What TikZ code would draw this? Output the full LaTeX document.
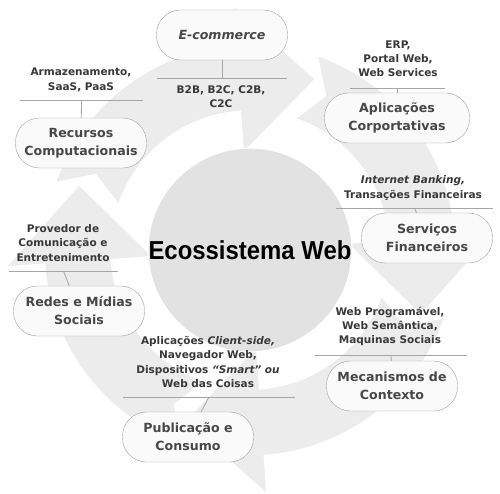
\documentclass[tikz,border=0pt]{standalone}
\usepackage{fontspec}
\setmainfont{DejaVu Sans}
\newfontfamily\titlefont{Liberation Sans}
\usetikzlibrary{positioning}
\tikzset{caixa/.style={draw=gray!75,fill=gray!4,rounded corners=24pt,minimum width=131pt,minimum height=50pt,
		align=center,inner sep=2pt,text=black!72,font=\fontsize{12.6}{18}\selectfont\bfseries},
	 nota/.style={align=center,inner sep=0pt,text=black!78,font=\fontsize{10.5}{14.2}\selectfont\bfseries},
	 regua/.style={draw=gray!70,line width=0.8pt},
	 seta/.style={fill=gray!15,draw=white,line width=1.6pt,line join=round},
	 centro/.style={circle,fill=gray!23,draw=white,line width=1pt,minimum size=190pt,inner sep=0pt}
	 }
% uma seta do ciclo, dada a ponta
\newcommand{\setaciclo}[1]{%
	\pgfmathsetmacro{\ta}{#1+92}\pgfmathsetmacro{\tn}{#1+85}\pgfmathsetmacro{\hb}{#1+25}%
	\draw[seta] (\ta:206) arc[start angle=\ta,end angle=\hb,radius=206] -- (\hb:245) -- (#1:183)
		-- (\hb:97) -- (\hb:139) arc[start angle=\hb,end angle=\ta,radius=139] -- (\tn:172) -- cycle;}

\begin{document}
\begin{tikzpicture}[x=1pt,y=-1pt]
	\useasboundingbox (0,0) rectangle (500,494);
	\fill[white] (0,0) rectangle (500,494);

	\begin{scope}[shift={(250,250)},yscale=-1]
		\foreach \t in {159,69,-21,-111} {\setaciclo{\t}}
	\end{scope}
	\node[centro] (eco) at (250,250) {\titlefont\fontsize{26}{28}\selectfont\bfseries\scalebox{0.92}[1]{Ecossistema Web}};

	\node[caixa,font=\fontsize{12.6}{18}\selectfont\bfseries\itshape] (ecom) at (222,35) {E-commerce};
	\node[caixa] (recursos) at (81,143) {Recursos\\Computacionais};
	\node[caixa,minimum width=145pt] (aplic) at (397,118) {Aplicações\\Corportativas};
	\node[caixa] (servicos) at (427,238) {Serviços\\Financeiros};
	\node[caixa] (redes) at (79,311) {Redes e Mídias\\Sociais};
	\node[caixa] (public) at (188,437) {Publicação e\\Consumo};
	\node[caixa] (mecan) at (392,386) {Mecanismos de\\Contexto};

	\node[nota] (n-recursos) at (81,80) {Armazenamento,\\SaaS, PaaS};
	\node[nota] (n-ecom) at (221,97) {B2B, B2C, C2B,\\C2C};
	\node[nota] (n-aplic) at (398,58.5) {ERP,\\Portal Web,\\Web Services};
	\node[nota] (n-servicos) at (413,188) {\itshape Internet Banking,\\Transações Financeiras};
	\node[nota] (n-redes) at (63,243) {Provedor de\\Comunicação e\\Entretenimento};
	\node[nota] (n-public) at (208,362) {Aplicações \textit{Client-side,}\\Navegador Web,\\Dispositivos \textit{“Smart” ou}\\Web das Coisas};
	\node[nota] (n-mecan) at (390,326.5) {Web Programável,\\Web Semântica,\\Maquinas Sociais};

	\foreach \nome/\xa/\xb/\yr in {recursos/20/143/100, ecom/157/287/78, aplic/350/445/88, servicos/336/493/208,
		redes/9/118/271, public/123/295/397, mecan/315/467/355} {
		\coordinate (r-\nome-a) at (\xa,\yr);
		\coordinate (r-\nome-b) at (\xb,\yr);
		\coordinate (r-\nome) at ({(\xa+\xb)/2},\yr);
		\draw[regua] (r-\nome-a) -- (r-\nome-b);
	}
	\draw[regua] (ecom) -- (r-ecom);
	\draw[regua] (r-recursos) -- (recursos); \draw[regua] (r-aplic) -- (aplic);
	\draw[regua] (r-servicos) -- (servicos); \draw[regua] (r-redes) -- (redes);
	\draw[regua] (r-public) -- (public); \draw[regua] (r-mecan) -- (mecan);
\end{tikzpicture}
\end{document}
